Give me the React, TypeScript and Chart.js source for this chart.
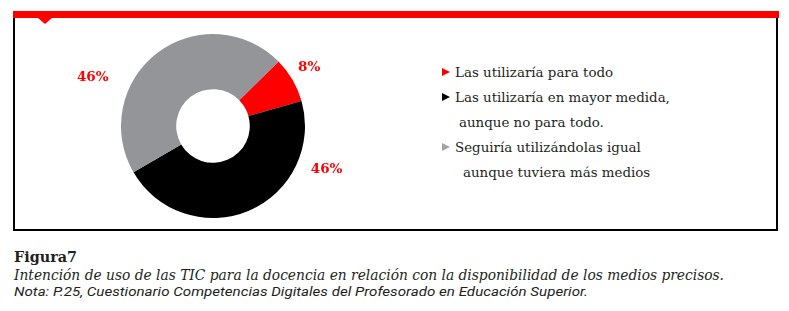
import React, { useEffect, useLayoutEffect, useRef } from "react";
import { Chart, registerables } from "chart.js";

Chart.register(...registerables);

const CATEGORIES: string[][] = [
  ["Las utilizaría para todo"],
  ["Las utilizaría en mayor medida,", "aunque no para todo."],
  ["Seguiría utilizándolas igual", "aunque tuviera más medios"],
];
const VALUES: number[] = [8, 46, 46];
const COLORS: string[] = ["#ff0000", "#000000", "#939598"];
const MARKER_COLORS: string[] = ["#ff0000", "#000000", "#a3a3a3"];
const FIGURE_TITLE = "Figura7";
const FIGURE_SUBTITLE =
  "Intención de uso de las TIC para la docencia en relación con la disponibilidad de los medios precisos.";
const FIGURE_NOTE =
  "Nota: P.25, Cuestionario Competencias Digitales del Profesorado en Educación Superior.";

// label placement: angle (deg clockwise from top) and distance as multiple of outer radius
const LABEL_ANGLES = [58.5, 111, 292];
const LABEL_DIST = [1.225, 1.323, 1.41];

const labelPlugin = {
  id: "pctLabels",
  afterDatasetsDraw(chart: any) {
    const meta = chart.getDatasetMeta(0);
    const ctx = chart.ctx as CanvasRenderingContext2D;
    ctx.save();
    ctx.fillStyle = "#ff0000";
    ctx.font = "bold 13.5px 'DejaVu Serif'";
    ctx.textAlign = "center";
    ctx.textBaseline = "middle";
    meta.data.forEach((arc: any, i: number) => {
      const a = (LABEL_ANGLES[i] * Math.PI) / 180;
      const r = arc.outerRadius * LABEL_DIST[i];
      const x = arc.x + Math.sin(a) * r;
      const y = arc.y - Math.cos(a) * r;
      ctx.fillText(`${VALUES[i]}%`, x, y);
    });
    ctx.restore();
  },
};

function FitText(props: { text: string; width: number; style: React.CSSProperties }) {
  const ref = useRef<HTMLSpanElement>(null);
  useLayoutEffect(() => {
    const el = ref.current;
    if (!el) return;
    el.style.transform = "none";
    const w = el.getBoundingClientRect().width;
    if (w > 0) el.style.transform = `scaleX(${props.width / w})`;
  }, [props.text, props.width]);
  return (
    <span
      ref={ref}
      style={{
        ...props.style,
        display: "inline-block",
        whiteSpace: "nowrap",
        transformOrigin: "0 0",
      }}
    >
      {props.text}
    </span>
  );
}

export default function App() {
  const canvasRef = useRef<HTMLCanvasElement>(null);

  useEffect(() => {
    document.body.style.margin = "0";
    const canvas = canvasRef.current;
    if (!canvas) return;
    const chart = new Chart(canvas, {
      type: "doughnut",
      data: {
        labels: CATEGORIES.map((c) => c.join(" ")),
        datasets: [
          {
            data: VALUES,
            backgroundColor: COLORS,
            borderWidth: 0,
          },
        ],
      },
      options: {
        animation: false,
        responsive: false,
        maintainAspectRatio: false,
        rotation: 45.4,
        cutout: "40%",
        layout: { padding: { left: 107, right: 115, top: 16, bottom: 11 } },
        plugins: {
          legend: { display: false },
          tooltip: { enabled: false },
        },
      },
      plugins: [labelPlugin],
    });
    return () => chart.destroy();
  }, []);

  const legendFont: React.CSSProperties = {
    fontFamily: "'DejaVu Serif', serif",
    fontSize: "13.4px",
    lineHeight: "25px",
    color: "#231f20",
    whiteSpace: "nowrap",
  };

  const lines: { text: string; item: number; first: boolean; indent: number }[] = [];
  CATEGORIES.forEach((c, i) =>
    c.forEach((t, j) => lines.push({ text: t, item: i, first: j === 0, indent: j === 0 ? 0 : i === 1 ? 4 : 8 }))
  );

  return (
    <div
      style={{
        position: "absolute",
        left: 0,
        top: 0,
        width: 789,
        height: 311,
        background: "#ffffff",
        overflow: "hidden",
      }}
    >
      {/* red top bar */}
      <div style={{ position: "absolute", left: 13, top: 11, width: 766, height: 7, background: "#ff0000" }} />
      <div
        style={{
          position: "absolute",
          left: 38,
          top: 18,
          width: 0,
          height: 0,
          borderLeft: "7px solid transparent",
          borderRight: "7px solid transparent",
          borderTop: "6px solid #ff0000",
        }}
      />
      {/* frame */}
      <div
        style={{
          position: "absolute",
          left: 13,
          top: 18,
          width: 765,
          height: 213,
          borderLeft: "2px solid #000",
          borderRight: "2px solid #000",
          borderBottom: "2px solid #000",
          boxSizing: "border-box",
        }}
      />
      <canvas
        ref={canvasRef}
        width={406}
        height={211}
        style={{ position: "absolute", left: 14, top: 18, width: 406, height: 211 }}
      />
      {/* legend */}
      {lines.map((l, k) => (
        <div key={k} style={{ position: "absolute", left: 440, top: 60 + k * 25, ...legendFont }}>
          {l.first ? (
            <span
              style={{
                display: "inline-block",
                width: 0,
                height: 0,
                borderTop: "4px solid transparent",
                borderBottom: "4px solid transparent",
                borderLeft: `8px solid ${MARKER_COLORS[l.item]}`,
                marginLeft: 2,
                marginRight: 5,
                verticalAlign: "1px",
              }}
            />
          ) : null}
          <span style={{ paddingLeft: l.first ? 0 : 15 + l.indent }}>{l.text}</span>
        </div>
      ))}
      {/* caption */}
      <div
        style={{
          position: "absolute",
          left: 14,
          top: 247,
          fontFamily: "'DejaVu Serif', serif",
          fontWeight: "bold",
          fontSize: "14px",
          lineHeight: "20px",
          color: "#231f20",
        }}
      >
        <FitText text={FIGURE_TITLE} width={63} style={{}} />
      </div>
      <div style={{ position: "absolute", left: 14, top: 265, lineHeight: "20px" }}>
        <FitText
          text={FIGURE_SUBTITLE}
          width={710}
          style={{ fontFamily: "'DejaVu Serif', serif", fontStyle: "italic", fontSize: "14px", color: "#231f20" }}
        />
      </div>
      <div style={{ position: "absolute", left: 14, top: 281, lineHeight: "20px" }}>
        <FitText
          text={FIGURE_NOTE}
          width={574}
          style={{ fontFamily: "Roboto, sans-serif", fontStyle: "italic", fontSize: "13.5px", color: "#231f20" }}
        />
      </div>
    </div>
  );
}
